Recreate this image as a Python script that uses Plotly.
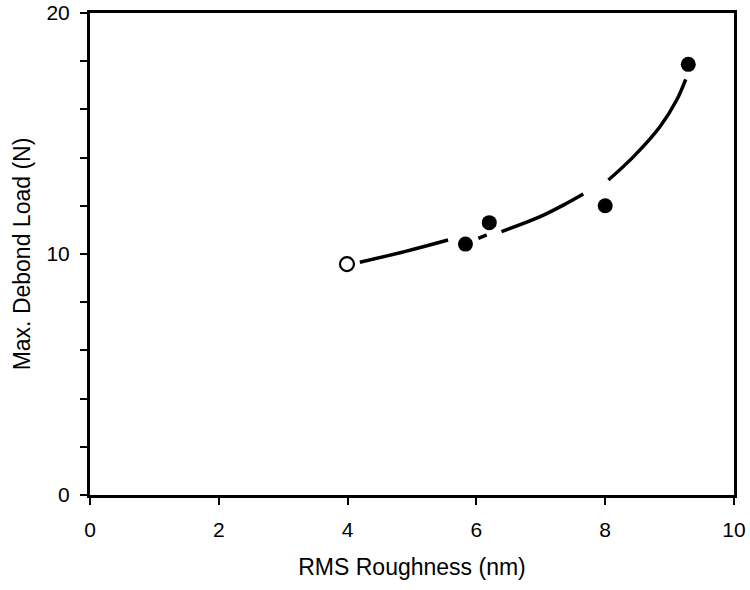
import plotly.graph_objects as go

# Data
x_open = [3.99]
y_open = [9.58]

x_filled = [5.83, 6.20, 8.00, 9.29]
y_filled = [10.41, 11.30, 12.00, 17.87]

# Fitted curve (drawn in broken segments as in the original)
curve_x = [4.19, 4.90, 5.56, None, 6.03, 6.16, None, 6.39, 6.99, 7.35, 7.66, None,
           8.05, 8.44, 8.85, 9.11, 9.25]
curve_y = [9.66, 10.11, 10.58, None, 10.65, 10.79, None, 10.93, 11.55, 12.03, 12.49, None,
           13.07, 14.04, 15.28, 16.39, 17.25]

x_ticks = [0, 2, 4, 6, 8, 10]
y_ticks = [0, 2, 4, 6, 8, 10, 12, 14, 16, 18, 20]
y_tick_text = ["0", "", "", "", "", "10", "", "", "", "", "20"]

fig = go.Figure()

fig.add_trace(go.Scatter(
    x=curve_x, y=curve_y, mode="lines",
    line=dict(color="black", width=3.5, shape="spline"),
    connectgaps=False, hoverinfo="skip", showlegend=False,
))

fig.add_trace(go.Scatter(
    x=x_open, y=y_open, mode="markers",
    marker=dict(size=14, color="white", line=dict(color="black", width=2.2)),
    showlegend=False,
))

fig.add_trace(go.Scatter(
    x=x_filled, y=y_filled, mode="markers",
    marker=dict(size=15, color="black", line=dict(color="black", width=0)),
    showlegend=False,
))

font_family = "Liberation Sans, Arial, Helvetica, sans-serif"

fig.update_layout(
    width=750, height=590,
    margin=dict(l=90, r=16, t=13, b=95),
    paper_bgcolor="white", plot_bgcolor="white",
    font=dict(family=font_family, color="black", size=21),
    showlegend=False,
)

fig.update_xaxes(
    range=[0, 10], tickvals=x_ticks, ticktext=[str(v) for v in x_ticks],
    showgrid=False, zeroline=False, automargin=False,
    showline=True, linecolor="black", linewidth=3, mirror=True,
    ticks="outside", ticklen=7, tickwidth=2, tickcolor="black",
    ticklabelstandoff=7, ticklabeloverflow="allow",
    tickfont=dict(size=21),
    title=dict(text="RMS Roughness (nm)", font=dict(size=23), standoff=19),
)

fig.update_yaxes(
    range=[0, 20], tickvals=y_ticks, ticktext=y_tick_text,
    showgrid=False, zeroline=False, automargin=False,
    showline=True, linecolor="black", linewidth=3, mirror=True,
    ticks="outside", ticklen=7, tickwidth=2, tickcolor="black",
    ticklabelstandoff=6, ticklabeloverflow="allow",
    tickfont=dict(size=21),
    title=dict(text="Max. Debond Load (N)", font=dict(size=23), standoff=10),
)

fig.write_html("out.html", config={"displayModeBar": False},
               post_script="document.body.style.margin='0';")
